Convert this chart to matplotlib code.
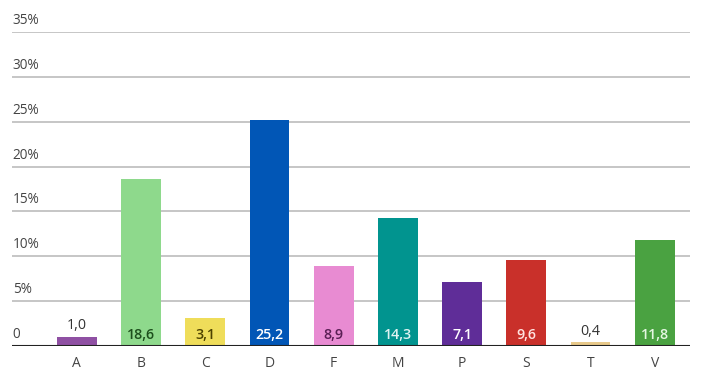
import matplotlib
matplotlib.use("Agg")
import matplotlib.pyplot as plt

categories = ["A", "B", "C", "D", "F", "M", "P", "S", "T", "V"]
values = [1.0, 18.6, 3.1, 25.2, 8.9, 14.3, 7.1, 9.6, 0.4, 11.8]
colors = ["#8f50a3", "#8ed98c", "#efdd5a", "#0156b6", "#e88bd2",
          "#01948f", "#5f2d98", "#c9302a", "#e8c98a", "#4aa241"]
label_colors = ["#333333", "#1d4f1d", "#4d4200", "#ffffff", "#5a1f55",
                "#dff3f2", "#ffffff", "#ffe3e0", "#333333", "#e5f7e2"]
inside = [False, True, True, True, True, True, True, True, False, True]
yticks = [0, 5, 10, 15, 20, 25, 30, 35]
ytick_labels = ["0", "5%", "10%", "15%", "20%", "25%", "30%", "35%"]

plt.rcParams['font.family'] = ['Open Sans', 'DejaVu Sans']

fig = plt.figure(figsize=(7.13, 3.82), dpi=100)
ax = fig.add_axes([12/713, 36/382, (690-12)/713, (346-32)/382])
ax.set_xlim(-1.01, 9.55)
ax.set_ylim(0, 35)

for y in yticks[1:]:
    ax.axhline(y, color="#c6c6c6", lw=1.4, zorder=0)
for y, lab in zip(yticks, ytick_labels):
    ax.text(-1.0, y + 0.45, lab, ha="left", va="bottom", fontsize=9.8, color="#444444")

x = list(range(len(categories)))
ax.bar(x, values, width=0.62, color=colors, zorder=2)
ax.axhline(0, color="#222222", lw=1.5, zorder=3)

for i, v in enumerate(values):
    s = f"{v:.1f}".replace(".", ",")
    if inside[i]:
        ax.text(i, 0.5, s, ha="center", va="bottom", fontsize=10.3, fontweight="semibold",
                color=label_colors[i], zorder=4)
    else:
        ax.text(i, v + 0.4, s, ha="center", va="bottom", fontsize=10.3,
                color=label_colors[i], zorder=4)

ax.set_xticks(x)
ax.set_xticklabels(categories, fontsize=10, color="#444444")
ax.tick_params(axis="x", length=0, pad=7)
ax.set_yticks([])
for sp in ax.spines.values():
    sp.set_visible(False)

fig.savefig("out.png", dpi=100, facecolor="white")
